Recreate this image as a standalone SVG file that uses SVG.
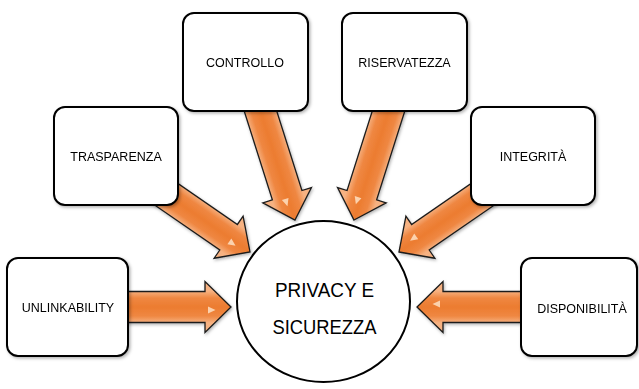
<svg xmlns="http://www.w3.org/2000/svg" xmlns:xlink="http://www.w3.org/1999/xlink" width="639" height="389" viewBox="0 0 639 389">
  <style>
    .box { fill: #ffffff; stroke: #000000; stroke-width: 2; filter: url(#sh); }
    .lbl { font-family: "Liberation Sans", Arial, sans-serif; font-size: 12.5px; fill: #000000; text-anchor: middle; }
    .big { font-family: "Liberation Sans", Arial, sans-serif; font-size: 20px; fill: #000000; text-anchor: middle; }
    .arr { fill: url(#og); stroke: #1a1a1a; stroke-width: 1.3; stroke-linejoin: miter; }
    .hl { fill: #fcd6b4; opacity: 0.95; }
  </style>
  <defs>
    <filter id="sh" x="-10%" y="-10%" width="125%" height="125%">
      <feDropShadow dx="1.5" dy="1.5" stdDeviation="1.5" flood-color="#000" flood-opacity="0.3"/>
    </filter>
    <filter id="ash" x="-10%" y="-20%" width="125%" height="140%">
      <feDropShadow dx="1" dy="1.5" stdDeviation="1.5" flood-color="#000" flood-opacity="0.3"/>
    </filter>
    <linearGradient id="og" gradientUnits="userSpaceOnUse" x1="0" y1="-16" x2="0" y2="16" spreadMethod="pad">
      <stop offset="0" stop-color="#f6b282"/>
      <stop offset="0.22" stop-color="#ef8742"/>
      <stop offset="0.5" stop-color="#ec7c30"/>
      <stop offset="0.78" stop-color="#ef8742"/>
      <stop offset="1" stop-color="#f6b282"/>
    </linearGradient>
    <path id="arrow" d="M0,0 L-26,-25.5 L-26,-15.5 L-130,-15.5 L-130,15.5 L-26,15.5 L-26,25.5 Z"/>
  </defs>

  <g id="center">
    <ellipse cx="323.5" cy="301.5" rx="86.5" ry="80.5" fill="#ffffff" stroke="#000000" stroke-width="2"/>
    <text class="big" x="324.5" y="297" textLength="99" lengthAdjust="spacingAndGlyphs">PRIVACY E</text>
    <text class="big" x="324.5" y="334" textLength="104" lengthAdjust="spacingAndGlyphs">SICUREZZA</text>
  </g>

  <g id="connectors" filter="url(#ash)">
    <g transform="translate(231,307)"><use xlink:href="#arrow" class="arr"/><polygon class="hl" points="-23,-0.5 -15.5,3 -23,6.5"/></g>
    <g transform="translate(417,307) rotate(180)"><use xlink:href="#arrow" class="arr"/><polygon class="hl" points="-23,-0.5 -15.5,3 -23,6.5"/></g>
    <g transform="translate(250,252) rotate(34.6)"><use xlink:href="#arrow" class="arr"/><polygon class="hl" points="-23,-0.5 -15.5,3 -23,6.5"/></g>
    <g transform="translate(399,252) rotate(145.4)"><use xlink:href="#arrow" class="arr"/><polygon class="hl" points="-23,-0.5 -15.5,3 -23,6.5"/></g>
    <g transform="translate(295,220) rotate(72.4)"><use xlink:href="#arrow" class="arr"/><polygon class="hl" points="-23,-0.5 -15.5,3 -23,6.5"/></g>
    <g transform="translate(354,220) rotate(107.6)"><use xlink:href="#arrow" class="arr"/><polygon class="hl" points="-23,-0.5 -15.5,3 -23,6.5"/></g>
  </g>

  <g id="controllo">
    <rect class="box" x="183" y="13" width="125" height="98" rx="11"/>
    <text class="lbl" x="245" y="67">CONTROLLO</text>
  </g>
  <g id="riservatezza">
    <rect class="box" x="342" y="13" width="125" height="98" rx="11"/>
    <text class="lbl" x="404.5" y="67">RISERVATEZZA</text>
  </g>
  <g id="trasparenza">
    <rect class="box" x="54" y="107" width="124" height="98" rx="11"/>
    <text class="lbl" x="116" y="161">TRASPARENZA</text>
  </g>
  <g id="integrita">
    <rect class="box" x="471" y="107" width="124" height="98" rx="11"/>
    <text class="lbl" x="533" y="161">INTEGRITÀ</text>
  </g>
  <g id="unlinkability">
    <rect class="box" x="7" y="258" width="121" height="98" rx="11"/>
    <text class="lbl" x="68" y="312">UNLINKABILITY</text>
  </g>
  <g id="disponibilita">
    <rect class="box" x="521" y="258" width="116" height="98" rx="11"/>
    <text class="lbl" x="582" y="313">DISPONIBILITÀ</text>
  </g>
</svg>
